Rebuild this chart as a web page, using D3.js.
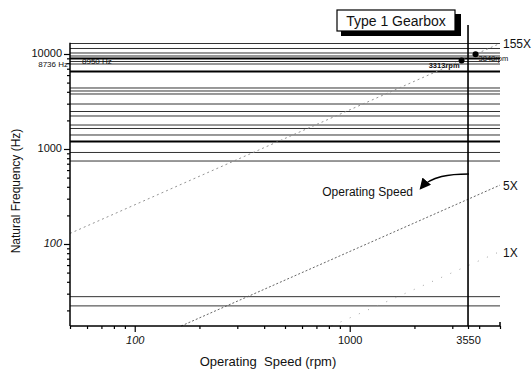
<!DOCTYPE html>
<html>
<head>
<meta charset="utf-8">
<script src="https://cdn.jsdelivr.net/npm/d3@7"></script>
<style>
body{margin:0;background:#fff}
text{font-family:"Liberation Sans",Arial,sans-serif;fill:#111}
</style>
</head>
<body>
<svg width="532" height="371"></svg>
<script>
// natural frequencies (Hz)
var natFreqs = [12897, 11428, 10245, 9527, 8966, 8340, 7847, 6543, 4387, 4079, 3793,
                2976, 2481, 2225, 1788, 1644, 1404, 1199, 919, 747, 27.9, 22.3];
var heavyFreqs = [8966, 6543, 1199];
var orders = [1, 5, 155];
var orderLabels = ["1X", "5X", "155X"];
var operatingSpeed = 3550;
var markRpm = [3313, 3848];
var markLabels = ["3313rpm", "3848rpm"];
var freqNotes = ["8736 Hz", "8950 Hz"];
var yTickLabels = [100, 1000, 10000];
var xTickLabels = [100, 1000, 3550];

var svg = d3.select("svg");
var xMin = 50, xMax = 5000;
var x = d3.scaleLog().domain([xMin, xMax]).range([70, 500]);
var y = d3.scaleLog().domain([13.7, 13150]).range([326, 42.7]);

// horizontal natural frequency lines
svg.append("g").selectAll("line")
	.data(natFreqs)
	.enter()
	.append("line")
	.attr("x1", x(xMin))
	.attr("x2", x(xMax))
	.attr("y1", function(d){ return y(d); })
	.attr("y2", function(d){ return y(d); })
	.attr("stroke", function(d){ return heavyFreqs.indexOf(d) >= 0 ? "#000" : "#333"; })
	.attr("stroke-width", function(d){ return heavyFreqs.indexOf(d) >= 0 ? 2.2 : 1; });

// harmonic order lines
var dashes = ["1,9", "2,2", "2,3"];
var greys = ["#999", "#555", "#888"];
orders.forEach(function(o, i){
	var r0 = Math.max(xMin, y.domain()[0] * 60 / o);
	svg.append("line")
		.attr("x1", x(r0)).attr("y1", y(r0 * o / 60))
		.attr("x2", x(xMax)).attr("y2", y(xMax * o / 60))
		.attr("stroke", greys[i])
		.attr("stroke-width", 0.9)
		.attr("stroke-dasharray", dashes[i]);
	svg.append("text")
		.attr("x", 503)
		.attr("y", y(xMax * o / 60) + 5)
		.attr("font-size", 12)
		.text(orderLabels[i]);
});

// axes
var yAxis = d3.axisLeft(y)
	.tickValues(y.ticks().filter(function(d){ return d >= y.domain()[0] && d <= y.domain()[1]; }))
	.tickFormat(function(d){ return yTickLabels.indexOf(d) >= 0 ? d : ""; })
	.tickSize(3);
var gy = svg.append("g").attr("transform", "translate(70,0)").call(yAxis);
gy.select(".domain").attr("d", "M0," + y.range()[1] + "V" + y.range()[0]).attr("stroke-width", 1.5);
gy.selectAll(".tick line").attr("x2", function(d){ return yTickLabels.indexOf(d) >= 0 ? -6 : -3; }).attr("stroke-width", 1.2);
gy.selectAll(".tick text").attr("x", -8).attr("dy", "0.2em").attr("font-size", 11)
	.attr("font-family", "Liberation Sans, Arial, sans-serif")
	.attr("font-style", function(d){ return d == 100 ? "italic" : null; });

var xt = x.ticks().filter(function(d){ return d >= xMin && d <= xMax; });
xt.push(operatingSpeed);
var xAxis = d3.axisBottom(x)
	.tickValues(xt)
	.tickFormat(function(d){ return xTickLabels.indexOf(d) >= 0 ? d : ""; })
	.tickSize(3);
var gx = svg.append("g").attr("transform", "translate(0,326)").call(xAxis);
gx.select(".domain").attr("d", "M" + x.range()[0] + ",0H" + x.range()[1] + "V-4").attr("stroke-width", 1.5);
gx.selectAll(".tick line").attr("y2", function(d){ return d == 100 || d == 1000 ? 6 : 3; }).attr("stroke-width", 1.2);
gx.selectAll(".tick text").attr("y", 10).attr("font-size", 11)
	.attr("font-family", "Liberation Sans, Arial, sans-serif")
	.attr("font-style", function(d){ return d == 100 ? "italic" : null; });

// operating speed line
svg.append("line")
	.attr("x1", x(operatingSpeed)).attr("x2", x(operatingSpeed))
	.attr("y1", 25).attr("y2", 326)
	.attr("stroke", "#000").attr("stroke-width", 1.6);

// marked crossing points on 155X
markRpm.forEach(function(r, i){
	svg.append("circle")
		.attr("cx", x(r)).attr("cy", y(r * 155 / 60))
		.attr("r", 3).attr("fill", "#000");
});
svg.append("text").attr("x", x(markRpm[0]) - 2).attr("y", y(markRpm[0] * 155 / 60) + 8)
	.attr("text-anchor", "end").attr("font-size", 7.5).attr("font-weight", "bold").text(markLabels[0]);
svg.append("text").attr("x", x(markRpm[1]) + 3).attr("y", y(markRpm[1] * 155 / 60) + 7)
	.attr("font-size", 7.5).text(markLabels[1]);

svg.append("text").attr("x", 68).attr("y", 67).attr("text-anchor", "end")
	.attr("font-size", 8).text(freqNotes[0]);
svg.append("text").attr("x", 82).attr("y", 64)
	.attr("font-size", 8).text(freqNotes[1]);

// Operating Speed callout
svg.append("defs").append("marker")
	.attr("id", "ah").attr("viewBox", "0 0 10 10")
	.attr("refX", 8).attr("refY", 5)
	.attr("markerWidth", 7).attr("markerHeight", 7)
	.attr("orient", "auto")
	.append("path").attr("d", "M0,0L10,5L0,10z").attr("fill", "#000");
svg.append("path")
	.attr("d", "M469,174C450,174 431,176 421,188")
	.attr("fill", "none").attr("stroke", "#000").attr("stroke-width", 1.6)
	.attr("marker-end", "url(#ah)");
svg.append("text").attr("x", 413).attr("y", 196).attr("text-anchor", "end")
	.attr("font-size", 12).text("Operating Speed");

// title box with shadow
svg.append("rect").attr("x", 341).attr("y", 14).attr("width", 120).attr("height", 22).attr("fill", "#000");
svg.append("rect").attr("x", 337).attr("y", 10).attr("width", 118).attr("height", 21)
	.attr("fill", "#fff").attr("stroke", "#000").attr("stroke-width", 1.2);
svg.append("text").attr("x", 396).attr("y", 26).attr("text-anchor", "middle")
	.attr("font-size", 14).text("Type 1 Gearbox");

// axis titles
svg.append("text").attr("transform", "translate(20,191) rotate(-90)")
	.attr("text-anchor", "middle").attr("font-size", 12).text("Natural Frequency (Hz)");
svg.append("text").attr("x", 268).attr("y", 366)
	.attr("text-anchor", "middle").attr("font-size", 13).attr("xml:space", "preserve")
	.style("white-space", "pre").text("Operating  Speed (rpm)");
</script>
</body>
</html>
